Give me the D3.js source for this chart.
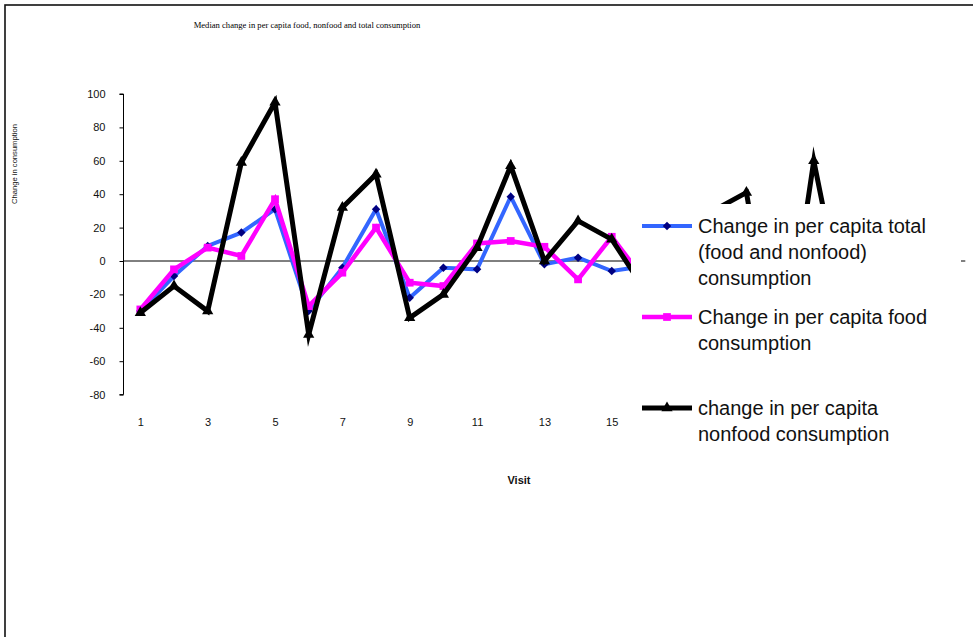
<!DOCTYPE html>
<html>
<head>
<meta charset="utf-8">
<script src="https://cdn.jsdelivr.net/npm/d3@7/dist/d3.min.js"></script>
<style>
  html, body { margin: 0; padding: 0; background: #fff; }
  svg { display: block; }
</style>
</head>
<body>
<svg id="chart" width="973" height="637"></svg>
<script>
// Median change per visit
const visits = d3.range(1, 26);
const totalChange   = [-30, -9, 9, 17, 31, -30, -4, 31, -22, -4, -5, 38.5, -2, 2, -6, -3, 5, 12, 8, -20, 10, -8, 4, -2, 6];
const foodChange    = [-29, -5, 8, 3, 37, -27, -7, 20, -13, -15, 10.5, 12, 8.5, -11, 14.5, -12, 3, 6, -4, -10, 9, -14, 2, -6, 5];
const nonfoodChange = [-31, -15, -30, 59, 95, -44, 32, 52, -34, -20, 8, 57, 0, 24, 13, -18, 8, 30, 41, -76, 60, -40, 14, -12, 18];
const yTicks = [-80, -60, -40, -20, 0, 20, 40, 60, 80, 100];
// labelled visits left of the legend box
const xTickLabels = [1, 3, 5, 7, 9, 11, 13, 15];

const seriesNames = [
  ["Change in per capita total", "(food and nonfood)", "consumption"],
  ["Change in per capita food", "consumption"],
  ["change in per capita", "nonfood consumption"]
];

const svg = d3.select("#chart");
const sans = "Arial, 'Liberation Sans', Helvetica, sans-serif";
const plainNum = d => String(d);

// outer chart frame (runs past the right and bottom edges)
svg.append("rect")
  .attr("x", 5).attr("y", 5).attr("width", 1100).attr("height", 800)
  .attr("fill", "#fff").attr("stroke", "#111").attr("stroke-width", 1.6);

const x = d3.scaleLinear().domain([0.5, 25.5]).range([123.5, 965.3]);
const y = d3.scaleLinear().domain([-80, 100]).range([394.6, 94]);

// title
svg.append("text")
  .attr("x", 307).attr("y", 28)
  .attr("text-anchor", "middle")
  .attr("font-family", "'Times New Roman', 'Liberation Serif', serif")
  .attr("font-size", 8.6)
  .attr("fill", "#000")
  .text("Median change in per capita food, nonfood and total consumption");

// y axis
const yAxis = svg.append("g")
  .attr("transform", `translate(${x(0.5)},0)`)
  .call(d3.axisLeft(y).tickValues(yTicks).tickSize(4).tickPadding(14).tickFormat(plainNum));
yAxis.select(".domain").attr("stroke", "#000").attr("stroke-width", 1).attr("d", `M-4,${y(-80)}H0V${y(100)}H-4`);
yAxis.selectAll(".tick line").attr("stroke", "#000");
yAxis.selectAll(".tick text").attr("font-family", sans).attr("font-size", 11).attr("fill", "#111")
  .attr("text-anchor", "end");

// zero line
svg.append("line")
  .attr("x1", x(0.5)).attr("x2", x(25.5))
  .attr("y1", y(0)).attr("y2", y(0))
  .attr("stroke", "#000").attr("stroke-width", 1);

// x labels (low position)
const xAxis = svg.append("g")
  .attr("transform", `translate(0,${y(-80) + 16})`)
  .call(d3.axisBottom(x).tickValues(xTickLabels).tickSize(0).tickPadding(8).tickFormat(plainNum));
xAxis.select(".domain").remove();
xAxis.selectAll(".tick text").attr("font-family", sans).attr("font-size", 11).attr("fill", "#111");

// axis titles
svg.append("text")
  .attr("x", 519).attr("y", 484)
  .attr("text-anchor", "middle")
  .attr("font-family", sans).attr("font-size", 11).attr("font-weight", "bold")
  .attr("fill", "#111")
  .text("Visit");

svg.append("text")
  .attr("transform", "translate(17,164) rotate(-90)")
  .attr("text-anchor", "middle")
  .attr("font-family", sans).attr("font-size", 7.6)
  .attr("fill", "#111")
  .text("Change in consumption");

// series: diamond = square turned 45 degrees
const series = [
  { values: totalChange, line: "#3366ff", width: 4, marker: "diamond", mfill: "#000080", msize: 36 },
  { values: foodChange, line: "#ff00ff", width: 4.5, marker: "square", mfill: "#ff00ff", msize: 60 },
  { values: nonfoodChange, line: "#000000", width: 5, marker: "triangle", mfill: "#000000", msize: 55 }
];
const symbolType = { diamond: d3.symbolSquare, square: d3.symbolSquare, triangle: d3.symbolTriangle };
const markerRot = { diamond: 45, square: 0, triangle: 0 };

const lineGen = d3.line().x((d, i) => x(visits[i])).y(d => y(d));

series.forEach(s => {
  const g = svg.append("g");
  g.append("path")
    .datum(s.values)
    .attr("d", lineGen)
    .attr("fill", "none")
    .attr("stroke", s.line)
    .attr("stroke-width", s.width)
    .attr("stroke-linejoin", "miter")
    .attr("stroke-miterlimit", 6);
  g.selectAll("path.m")
    .data(s.values)
    .join("path")
    .attr("class", "m")
    .attr("transform", (d, i) => `translate(${x(visits[i])},${y(d)}) rotate(${markerRot[s.marker]})`)
    .attr("d", d3.symbol().type(symbolType[s.marker]).size(s.msize))
    .attr("fill", s.mfill);
});

// legend (white box drawn over the plot)
const lg = svg.append("g");
lg.append("rect")
  .attr("x", 631).attr("y", 204).attr("width", 330).attr("height", 250)
  .attr("fill", "#fff");

const legendRowY = [226, 317, 408];
series.forEach((s, k) => {
  const ly = legendRowY[k];
  lg.append("line")
    .attr("x1", 642).attr("x2", 692).attr("y1", ly).attr("y2", ly)
    .attr("stroke", s.line).attr("stroke-width", s.width);
  lg.append("path")
    .attr("transform", `translate(667,${ly}) rotate(${markerRot[s.marker]})`)
    .attr("d", d3.symbol().type(symbolType[s.marker]).size(s.msize))
    .attr("fill", s.mfill);
  const t = lg.append("text")
    .attr("font-family", sans).attr("font-size", 20).attr("fill", "#111");
  seriesNames[k].forEach((ln, j) => {
    t.append("tspan").attr("x", 698).attr("y", ly + 7 + j * 26).text(ln);
  });
});
</script>
</body>
</html>
